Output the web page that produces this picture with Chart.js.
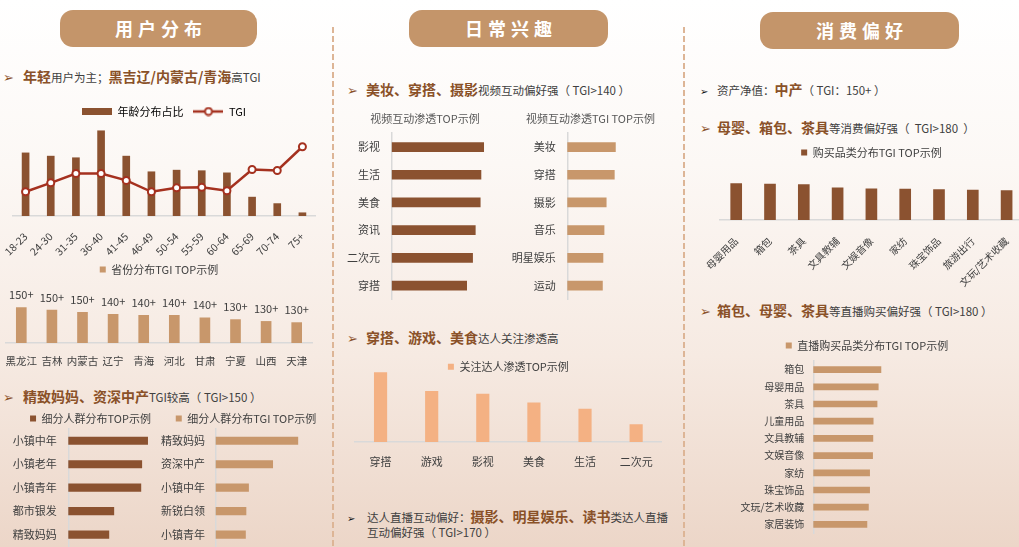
<!DOCTYPE html>
<html><head><meta charset="utf-8">
<script src="https://cdn.jsdelivr.net/npm/chart.js@4.4.1/dist/chart.umd.min.js"></script>
<style>
html,body{margin:0;padding:0;}
body{width:1019px;height:547px;overflow:hidden;position:relative;
 background:linear-gradient(180deg,#ffffff 0%,#fcf8f5 30%,#f6eae2 65%,#ecd6c8 100%);
 font-family:'Noto Sans CJK SC','Microsoft YaHei',sans-serif;}
.pill{position:absolute;height:37px;border-radius:13px;background:#c4956a;color:#fff;font-weight:700;font-size:18px;letter-spacing:5px;text-indent:5px;text-align:center;line-height:37px;}
.sep{position:absolute;top:27px;width:2px;height:520px;background:repeating-linear-gradient(180deg,#ddb596 0 6px,transparent 6px 9px);}
.hd{position:absolute;white-space:nowrap;line-height:20px;height:20px;color:#404040;font-size:11.5px;}
.hd b{font-size:14px;color:#8a5128;font-weight:700;}
.ar{display:inline-block;font-family:'DejaVu Sans',sans-serif;color:#8a5128;font-size:13px;}
.ar.k{color:#111;font-size:10px;}
canvas{position:absolute;}
</style></head>
<body>
<div class="pill" style="left:60px;top:10px;width:197px;">用户分布</div>
<div class="pill" style="left:409px;top:10px;width:199px;">日常兴趣</div>
<div class="pill" style="left:760px;top:12px;width:199px;">消费偏好</div>
<div class="sep" style="left:332px;"></div>
<div class="sep" style="left:683px;"></div>

<div class="hd" style="left:3px;top:66px;"><span class="ar" style="width:20px">➢</span><b>年轻</b>用户为主；<b>黑吉辽/内蒙古/青海</b>高TGI</div>
<div class="hd" style="left:3px;top:386px;"><span class="ar" style="width:20px">➢</span><b>精致妈妈、资深中产</b>TGI较高（ TGI&gt;150 ）</div>
<div class="hd" style="left:347px;top:79px;"><span class="ar" style="width:19px">➢</span><b>美妆、穿搭、摄影</b>视频互动偏好强（ TGI&gt;140 ）</div>
<div class="hd" style="left:347px;top:327px;"><span class="ar" style="width:19px">➢</span><b>穿搭、游戏、美食</b>达人关注渗透高</div>
<div class="hd" style="left:347px;top:506px;"><span class="ar k" style="width:20px">➢</span>达人直播互动偏好：<b>摄影、明星娱乐、读书</b>类达人直播</div>
<div class="hd" style="left:367px;top:522px;">互动偏好强（ TGI&gt;170 ）</div>
<div class="hd" style="left:700px;top:79px;"><span class="ar k" style="width:17px">➢</span>资产净值：<b>中产</b>（ TGI：150+ ）</div>
<div class="hd" style="left:700px;top:117px;"><span class="ar" style="width:17px">➢</span><b>母婴、箱包、茶具</b>等消费偏好强（&nbsp;&nbsp;TGI&gt;180&nbsp;&nbsp;）</div>
<div class="hd" style="left:700px;top:300px;"><span class="ar" style="width:17px">➢</span><b>箱包、母婴、茶具</b>等直播购买偏好强（ TGI&gt;180 ）</div>

<script>
// ---------- data ----------
const ageCats = ['18-23','24-30','31-35','36-40','41-45','46-49','50-54','55-59','60-64','65-69','70-74','75+'];
const ageShare = [11.7,11.1,10.8,15.8,11.1,8.2,8.5,8.4,8.0,3.5,2.3,0.6];
const ageTGI = [89,107,126,126,112,89,97,98,91,134,132,180];
const ageShareName = '年龄分布占比';
const ageTGIName = 'TGI';

const provinces = ['黑龙江','吉林','内蒙古','辽宁','青海','河北','甘肃','宁夏','山西','天津'];
const provinceTGI = [159,155,151,148,146,146,142,139,136,134];
const provinceTGILabels = ['150+','150+','150+','140+','140+','140+','140+','130+','130+','130+'];
const provinceName = '省份分布TGI TOP示例';

const segCats = ['小镇中年','小镇老年','小镇青年','都市银发','精致妈妈'];
const segShare = [17.6,16.3,16.1,10.1,9.0];
const segShareName = '细分人群分布TOP示例';
const segTGICats = ['精致妈妈','资深中产','小镇中年','新锐白领','小镇青年'];
const segTGI = [210,161,114,109,108];
const segTGIName = '细分人群分布TGI TOP示例';

const videoCats = ['影视','生活','美食','资讯','二次元','穿搭'];
const videoShare = [37.3,36.2,35.9,33.9,32.8,30.4];
const videoShareTitle = '视频互动渗透TOP示例';
const videoTGICats = ['美妆','穿搭','摄影','音乐','明星娱乐','运动'];
const videoTGI = [178,174,144,136,132,130];
const videoTGITitle = '视频互动渗透TGI TOP示例';

const followCats = ['穿搭','游戏','影视','美食','生活','二次元'];
const followShare = [34.8,25.5,24.0,19.7,16.5,8.7];
const followName = '关注达人渗透TOP示例';

const buyCats = ['母婴用品','箱包','茶具','文具教辅','文娱音像','家纺','珠宝饰品','旅游出行','文玩/艺术收藏'];
const buyTGI = [223,219,217,197,190,189,186,183,180];
const buyName = '购买品类分布TGI TOP示例';

const liveCats = ['箱包','母婴用品','茶具','儿童用品','文具教辅','文娱音像','家纺','珠宝饰品','文玩/艺术收藏','家居装饰'];
const liveTGI = [227,218,214,201,200,199,189,189,185,180];
const liveName = '直播购买品类分布TGI TOP示例';

// ---------- styles ----------
const BROWN = '#8b5230', TAN = '#c8976b', PEACH = '#f4b183', RED = '#a5311f', AXIS = '#d9d9d9', TXT = '#404040';
Chart.defaults.font.family = "'Noto Sans CJK SC','Microsoft YaHei',sans-serif";
Chart.defaults.color = TXT;
Chart.defaults.animation = false;
Chart.defaults.responsive = false;
Chart.defaults.events = [];
Chart.defaults.plugins.tooltip.enabled = false;

function mk(left, top, w, h) {
  const c = document.createElement('canvas');
  c.width = w; c.height = h;
  c.style.left = left + 'px'; c.style.top = top + 'px';
  c.style.width = w + 'px'; c.style.height = h + 'px';
  document.body.appendChild(c);
  return c;
}
const legendShift = {
  id: 'legendShift',
  afterLayout(chart, args, opts) {
    const dy = opts && opts.dy;
    if (dy && chart.legend) { chart.legend.top += dy; chart.legend.bottom += dy; }
  }
};
const barTopLabels = {
  id: 'barTopLabels',
  afterDatasetsDraw(chart, args, opts) {
    const ctx = chart.ctx, meta = chart.getDatasetMeta(0);
    ctx.save();
    ctx.font = "11px 'Noto Sans CJK SC', sans-serif";
    ctx.fillStyle = TXT; ctx.textAlign = 'center'; ctx.textBaseline = 'bottom';
    meta.data.forEach((bar, i) => ctx.fillText(opts.labels[i], bar.x, bar.y - 7));
    ctx.restore();
  }
};
function swatchBar(color) {
  const c = document.createElement('canvas'); c.width = 30; c.height = 7;
  const x = c.getContext('2d'); x.fillStyle = color; x.fillRect(0, 0, 30, 7); return c;
}
function swatchLine(color) {
  const c = document.createElement('canvas'); c.width = 30; c.height = 10;
  const x = c.getContext('2d'); x.strokeStyle = color; x.lineWidth = 2.5;
  x.beginPath(); x.moveTo(0, 5); x.lineTo(30, 5); x.stroke();
  x.beginPath(); x.arc(15, 5, 3.5, 0, Math.PI * 2); x.fillStyle = '#fff'; x.fill(); x.lineWidth = 2; x.stroke();
  return c;
}
const sqLegend = () => ({ labels: { boxWidth: 6, boxHeight: 6, font: { size: 11 }, color: TXT } });
const catAxisBottom = (tl, size, rot, h) => ({
  grid: { display: false, drawTicks: true, tickLength: tl },
  border: { color: AXIS, width: 1.5 },
  ticks: { padding: 0, font: { size: size }, color: TXT, minRotation: rot, maxRotation: rot, autoSkip: false },
  afterFit: s => { s.height = h; }
});
const catAxisLeft = (tl, size, w) => ({
  grid: { display: false, drawTicks: true, tickLength: tl },
  border: { color: AXIS, width: 1.5 },
  ticks: { padding: 0, font: { size: size }, color: TXT, autoSkip: false },
  afterFit: s => { s.width = w; }
});

// ---------- 1. age distribution + TGI ----------
new Chart(mk(0, 96, 322, 160), {
  type: 'bar',
  data: { labels: ageCats, datasets: [
    { type: 'line', label: ageTGIName, data: ageTGI, yAxisID: 'y1', order: 0,
      borderColor: RED, borderWidth: 2.5, pointRadius: 3.5, pointBorderWidth: 2,
      pointBackgroundColor: '#fff', pointBorderColor: RED, tension: 0 },
    { type: 'bar', label: ageShareName, data: ageShare, yAxisID: 'y', order: 1,
      backgroundColor: BROWN, barThickness: 7 }
  ]},
  options: {
    layout: { padding: { left: 13, right: 7 } },
    scales: {
      x: catAxisBottom(14, 10.5, 45, 40),
      y: { display: false, min: 0, max: 16.5 },
      y1: { display: false, min: 40, max: 220 }
    },
    plugins: { legend: { labels: {
      usePointStyle: true, pointStyleWidth: 30, font: { size: 11 }, color: TXT,
      generateLabels: () => [
        { text: ageShareName, pointStyle: swatchBar(BROWN), fillStyle: BROWN, strokeStyle: BROWN, lineWidth: 0, hidden: false, datasetIndex: 1 },
        { text: ageTGIName, pointStyle: swatchLine(RED), fillStyle: '#fff', strokeStyle: RED, lineWidth: 0, hidden: false, datasetIndex: 0 }
      ]
    } } }
  }
});

// ---------- 2. province TGI ----------
new Chart(mk(0, 254, 321, 119), {
  type: 'bar',
  data: { labels: provinces, datasets: [{ label: provinceName, data: provinceTGI, backgroundColor: TAN, barThickness: 10 }] },
  options: {
    layout: { padding: { left: 6, right: 9 } },
    scales: { x: catAxisBottom(12, 10.5, 0, 30), y: { display: false, min: 100, max: 196.7 } },
    plugins: { legend: sqLegend(), barTopLabels: { labels: provinceTGILabels } }
  },
  plugins: [barTopLabels]
});

// ---------- 3. segments ----------
new Chart(mk(0, 398, 181, 155), {
  type: 'bar',
  data: { labels: segCats, datasets: [{ label: segShareName, data: segShare, backgroundColor: BROWN, barThickness: 7.5 }] },
  options: {
    indexAxis: 'y',
    scales: { x: { display: false, min: 0, max: 25 }, y: catAxisLeft(11.6, 11, 68.3) },
    plugins: { legend: sqLegend(), legendShift: { dy: 5 } }
  },
  plugins: [legendShift]
});
new Chart(mk(150, 398, 192, 155), {
  type: 'bar',
  data: { labels: segTGICats, datasets: [{ label: segTGIName, data: segTGI, backgroundColor: TAN, barThickness: 7.5 }] },
  options: {
    indexAxis: 'y',
    scales: { x: { display: false, min: 50, max: 296 }, y: catAxisLeft(10.7, 11, 65.7) },
    plugins: { legend: sqLegend(), legendShift: { dy: 5 } }
  },
  plugins: [legendShift]
});

// ---------- 4. video interaction ----------
const hTitle = (t) => ({ display: true, text: t, font: { size: 11, weight: 'normal' }, color: '#595959', padding: { top: 4, bottom: 8 } });
new Chart(mk(335, 108, 180, 198), {
  type: 'bar',
  data: { labels: videoCats, datasets: [{ label: videoShareTitle, data: videoShare, backgroundColor: BROWN, barThickness: 9 }] },
  options: {
    indexAxis: 'y',
    scales: { x: { display: false, min: 0, max: 50 }, y: catAxisLeft(11.7, 11, 56.7) },
    plugins: { legend: { display: false }, title: hTitle(videoShareTitle) }
  }
});
new Chart(mk(511, 108, 159, 198), {
  type: 'bar',
  data: { labels: videoTGICats, datasets: [{ label: videoTGITitle, data: videoTGI, backgroundColor: TAN, barThickness: 9 }] },
  options: {
    indexAxis: 'y',
    scales: { x: { display: false, min: 0, max: 380 }, y: catAxisLeft(11.6, 11, 56.3) },
    plugins: { legend: { display: false }, title: hTitle(videoTGITitle) }
  }
});

// ---------- 5. follow penetration ----------
new Chart(mk(345, 337, 330, 135), {
  type: 'bar',
  data: { labels: followCats, datasets: [{ label: followName, data: followShare, backgroundColor: PEACH, barThickness: 12.5 }] },
  options: {
    layout: { padding: { left: 10, right: 13.3 } },
    scales: { x: catAxisBottom(13, 11, 0, 30), y: { display: false, min: 0, max: 37.15 } },
    plugins: { legend: sqLegend(), legendShift: { dy: 14.2 } }
  },
  plugins: [legendShift]
});

// ---------- 6. purchase categories TGI ----------
new Chart(mk(700, 137, 330, 160), {
  type: 'bar',
  data: { labels: buyCats, datasets: [{ label: buyName, data: buyTGI, backgroundColor: BROWN, barThickness: 11 }] },
  options: {
    layout: { padding: { left: 19.3, right: 6.5 } },
    scales: { x: catAxisBottom(15, 10, 45, 77), y: { display: false, min: 0, max: 318 } },
    plugins: { legend: sqLegend() }
  }
});

// ---------- 7. live purchase categories TGI ----------
new Chart(mk(730, 330, 274, 209), {
  type: 'bar',
  data: { labels: liveCats, datasets: [{ label: liveName, data: liveTGI, backgroundColor: TAN, barThickness: 6 }] },
  options: {
    indexAxis: 'y',
    scales: { x: { display: false, min: 0, max: 640 }, y: catAxisLeft(9, 10, 83.3) },
    plugins: { legend: sqLegend() }
  }
});
</script>
</body></html>
